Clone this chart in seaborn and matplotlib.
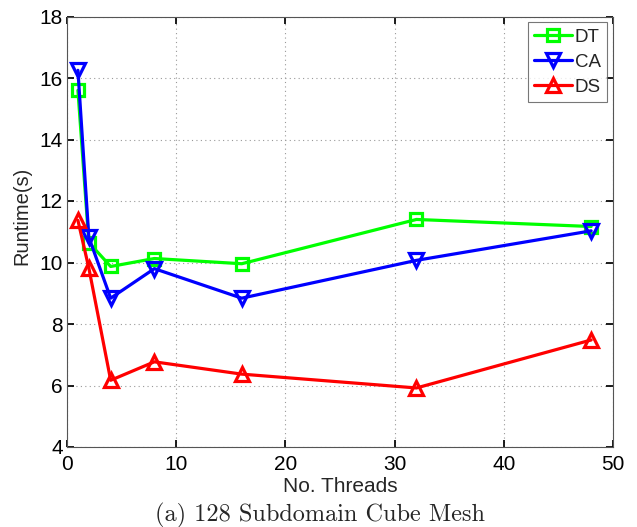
import matplotlib
matplotlib.use("Agg")
import matplotlib.pyplot as plt
import seaborn as sns
import pandas as pd

threads = [1, 2, 4, 8, 16, 32, 48]
dt = [15.6, 10.65, 9.87, 10.13, 9.96, 11.4, 11.17]
ca = [16.25, 10.82, 8.84, 9.8, 8.84, 10.07, 11.03]
ds = [11.37, 9.82, 6.17, 6.77, 6.37, 5.92, 7.48]
series_names = ["DT", "CA", "DS"]

sns.set_theme(style="white")
plt.rcParams['font.family'] = ['Liberation Sans', 'DejaVu Sans']

W, H = 637, 527
fig = plt.figure(figsize=(W/100, H/100), dpi=100)
L, R, T, B = 67, 613, 16.5, 447
ax = fig.add_axes([L/W, (H-B)/H, (R-L)/W, (B-T)/H])

colors = {"DT": (0, 1, 0), "CA": (0, 0, 1), "DS": (1, 0, 0)}
markers = {"DT": "s", "CA": "v", "DS": "^"}
msizes = {"DT": 8, "CA": 10, "DS": 10}
for name, vals in zip(series_names, [dt, ca, ds]):
    df = pd.DataFrame({"threads": threads, "runtime": vals})
    sns.lineplot(data=df, x="threads", y="runtime", ax=ax, color=colors[name],
                 marker=markers[name], markersize=msizes[name], markerfacecolor="none",
                 markeredgecolor=colors[name], markeredgewidth=2.3,
                 linewidth=2.3, label=name)

ax.set_xlim(0, 50)
ax.set_ylim(4, 18)
ax.set_xticks(range(0, 51, 10))
ax.set_yticks(range(4, 19, 2))
ax.grid(True, linestyle=(0, (1, 3)), color="#999999", linewidth=0.8)
ax.tick_params(direction="in", length=5, labelsize=15, colors="black",
               top=True, right=True, bottom=True, left=True)
ax.tick_params(axis="x", pad=6)
ax.tick_params(axis="y", pad=3)
for s in ax.spines.values():
    s.set_color("#555555")
    s.set_linewidth(0.8)
ax.set_xlabel("No. Threads", fontsize=15)
ax.set_ylabel("Runtime(s)", fontsize=14.5)
ax.xaxis.set_label_coords(0.5, (B - 487) / (B - T))
ax.xaxis.label.set_verticalalignment("center")
ax.yaxis.set_label_coords((22 - L) / (R - L), (B - 216) / (B - T))
ax.yaxis.label.set_verticalalignment("center")

leg = ax.legend(loc="upper right", fontsize=13.5, frameon=True, fancybox=False,
                edgecolor="#555555", handlelength=2.0, borderpad=0.35,
                labelspacing=0.42, handletextpad=0.15, borderaxespad=0.3)
leg.get_frame().set_linewidth(0.8)

fig.text(320/W, 1 - 515/H, "(a) 128 Subdomain Cube Mesh", ha="center", va="center",
         fontsize=17.5, family="cmr10")

fig.savefig("out.png", dpi=100, facecolor="white")
